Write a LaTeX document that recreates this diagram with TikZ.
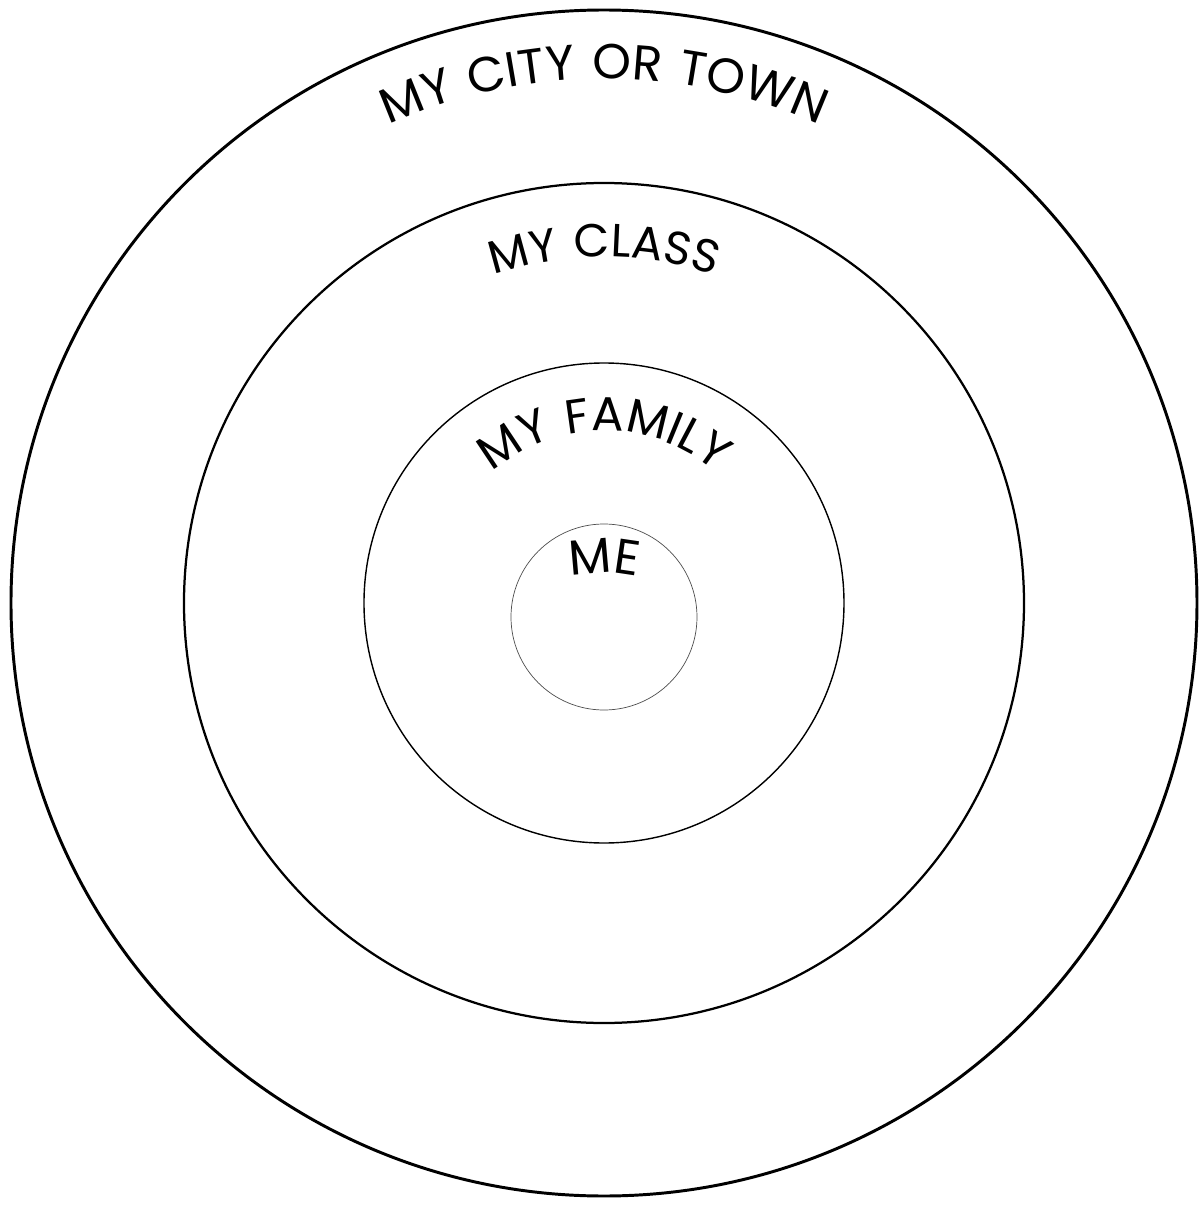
\documentclass[tikz,border=0pt]{standalone}
\usepackage{fontspec}
\usepackage{tikz}
\usetikzlibrary{decorations.text}
\newfontfamily\ringfont[LetterSpace=7]{Poppins}

\tikzset{ring/.style={draw=black},
         ringtext/.style={decorate, decoration={text along path, text align=center, text={#1}}}}

\begin{document}
\begin{tikzpicture}[x=0.025cm, y=0.025cm]
  \useasboundingbox (-604,-602) rectangle (595,603);
  \coordinate (c) at (0,0);
  \coordinate (m) at (0,-14);
  \draw[ring, line width=2.1pt] (c) circle[radius=593];
  \draw[ring, line width=1.6pt] (c) circle[radius=420];
  \draw[ring, line width=1pt] (c) circle[radius=240];
  \draw[ring, draw=black!70, line width=0.5pt] (m) circle[radius=93];
  \path[ringtext={|\fontsize{35}{42}\ringfont|MY CITY OR TOWN}]
    (-524,0) arc[start angle=180, end angle=0, radius=524];
  \path[ringtext={|\fontsize{33}{40}\ringfont|MY CLASS}]
    (-346,0) arc[start angle=180, end angle=0, radius=346];
  \path[ringtext={|\fontsize{34}{40}\ringfont|MY FAMILY}]
    (-172,0) arc[start angle=180, end angle=0, radius=172];
  \path[ringtext={|\fontsize{35}{42}\ringfont|ME}]
    (-143,-113) arc[start angle=180, end angle=0, radius=143];
\end{tikzpicture}
\end{document}
